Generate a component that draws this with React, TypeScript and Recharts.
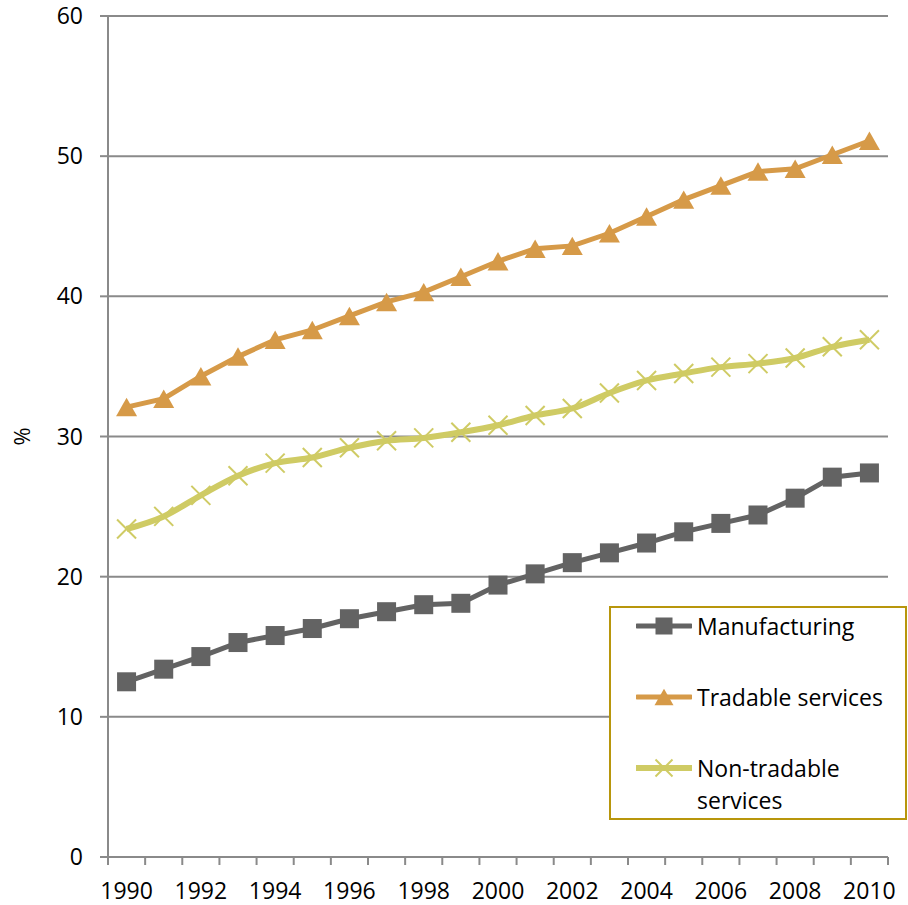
import React from 'react';
import { LineChart, Line, XAxis, YAxis, CartesianGrid } from 'recharts';

const years = ['1990', '1991', '1992', '1993', '1994', '1995', '1996', '1997', '1998', '1999', '2000',
  '2001', '2002', '2003', '2004', '2005', '2006', '2007', '2008', '2009', '2010'];
const manufacturing = [12.5, 13.4, 14.3, 15.3, 15.8, 16.3, 17.0, 17.5, 18.0, 18.1, 19.4,
  20.2, 21.0, 21.7, 22.4, 23.2, 23.8, 24.4, 25.6, 27.1, 27.4];
const tradable = [32.1, 32.7, 34.3, 35.7, 36.9, 37.6, 38.6, 39.6, 40.3, 41.4, 42.5,
  43.4, 43.6, 44.5, 45.7, 46.9, 47.9, 48.9, 49.1, 50.1, 51.1];
const nonTradable = [23.4, 24.3, 25.8, 27.2, 28.1, 28.5, 29.2, 29.7, 29.9, 30.3, 30.8,
  31.5, 32.0, 33.1, 34.0, 34.5, 34.95, 35.2, 35.6, 36.4, 36.9];
const yTicks = [0, 10, 20, 30, 40, 50, 60];

const data = years.map((year, i) => ({
  year,
  manufacturing: manufacturing[i],
  tradable: tradable[i],
  nonTradable: nonTradable[i],
}));

const W = 908;
const H = 905;
const MARGIN = { top: 16, right: 20, left: 0, bottom: 0 };
const Y_W = 108;
const X_H = 48;
const PLOT_W = W - MARGIN.left - MARGIN.right - Y_W;
const BAND = PLOT_W / years.length;

const FONT = '"Open Sans", sans-serif';
const AXIS = '#8a8a8a';
const C_MAN = '#636363';
const C_TRA = '#d69a48';
const C_NON = '#cfcb64';

const Square = ({ cx, cy, size = 19 }: any) =>
  cx == null ? null : <rect x={cx - size / 2} y={cy - size / 2} width={size} height={size} fill={C_MAN} />;

const Triangle = ({ cx, cy, size = 21 }: any) => {
  if (cx == null) return null;
  const h = size * 0.88;
  return (
    <path
      d={`M${cx},${cy - h / 2} L${cx + size / 2},${cy + h / 2} L${cx - size / 2},${cy + h / 2} Z`}
      fill={C_TRA}
    />
  );
};

const Cross = ({ cx, cy, size = 19 }: any) => {
  if (cx == null) return null;
  const r = size / 2;
  return (
    <g stroke={C_NON} strokeWidth={2}>
      <line x1={cx - r} y1={cy - r} x2={cx + r} y2={cy + r} />
      <line x1={cx - r} y1={cy + r} x2={cx + r} y2={cy - r} />
    </g>
  );
};

// tick marks sit on the category boundaries, labels on every other year
const YearTick = (props: any) => {
  const { x, y, payload, index } = props;
  const last = index === years.length - 1;
  return (
    <g>
      <line x1={x - BAND / 2} x2={x - BAND / 2} y1={y} y2={y + 8} stroke={AXIS} strokeWidth={2} />
      {last && <line x1={x + BAND / 2} x2={x + BAND / 2} y1={y} y2={y + 8} stroke={AXIS} strokeWidth={2} />}
      {index % 2 === 0 && (
        <text x={x} y={y + 42} textAnchor="middle" fontSize={23} fontFamily={FONT} fill="#000">
          {payload.value}
        </text>
      )}
    </g>
  );
};

const PercentLabel = ({ viewBox }: any) => {
  const cx = 21;
  const cy = viewBox.y + viewBox.height / 2;
  return (
    <text x={cx} y={cy} transform={`rotate(-90 ${cx} ${cy})`} textAnchor="middle" dominantBaseline="central"
      fontSize={22} fontFamily={FONT} fill="#000">
      %
    </text>
  );
};

const legendItems = [
  { label: ['Manufacturing'], color: C_MAN, width: 5, marker: 'square' },
  { label: ['Tradable services'], color: C_TRA, width: 5, marker: 'triangle' },
  { label: ['Non-tradable', 'services'], color: C_NON, width: 6, marker: 'cross' },
];

const LegendBox = () => (
  <div
    style={{
      position: 'absolute',
      left: 609,
      top: 606,
      width: 298,
      height: 214,
      boxSizing: 'border-box',
      border: '2px solid #b8960c',
      background: '#fff',
      fontFamily: FONT,
      fontSize: 23,
      color: '#000',
    }}
  >
    {legendItems.map((it, i) => {
      const top = [2, 73, 144][i];
      return (
        <div key={i} style={{ position: 'absolute', left: 25, top, display: 'flex', alignItems: 'flex-start' }}>
          <svg width={56} height={32} style={{ flex: 'none' }}>
            <line x1={1} x2={55} y1={16} y2={16} stroke={it.color} strokeWidth={it.width} strokeLinecap="round" />
            {it.marker === 'square' && <Square cx={28} cy={16} size={17} />}
            {it.marker === 'triangle' && <Triangle cx={28} cy={16} size={19} />}
            {it.marker === 'cross' && <Cross cx={28} cy={16} size={17} />}
          </svg>
          <div style={{ marginLeft: 5, lineHeight: '32px' }}>
            {it.label.map((l) => (
              <div key={l}>{l}</div>
            ))}
          </div>
        </div>
      );
    })}
  </div>
);

export default function App() {
  return (
    <div style={{ position: 'absolute', left: 0, top: 0, width: W, height: H, background: '#fff' }}>
      <LineChart width={W} height={H} data={data} margin={MARGIN}>
        <CartesianGrid vertical={false} stroke={AXIS} strokeWidth={2} />
        <XAxis
          dataKey="year"
          height={X_H}
          interval={0}
          padding={{ left: BAND / 2, right: BAND / 2 }}
          tickLine={false}
          tickSize={0}
          tickMargin={0}
          axisLine={{ stroke: AXIS, strokeWidth: 2 }}
          tick={<YearTick />}
        />
        <YAxis
          width={Y_W}
          domain={[0, 60]}
          ticks={yTicks}
          tickSize={8}
          tickMargin={17}
          axisLine={{ stroke: AXIS, strokeWidth: 2 }}
          tickLine={{ stroke: AXIS, strokeWidth: 2 }}
          tick={{ fontSize: 23, fontFamily: FONT, fill: '#000' }}
          label={<PercentLabel />}
        />
        <Line
          type="linear"
          dataKey="manufacturing"
          stroke={C_MAN}
          strokeWidth={5}
          dot={<Square />}
          activeDot={false}
          isAnimationActive={false}
        />
        <Line
          type="linear"
          dataKey="tradable"
          stroke={C_TRA}
          strokeWidth={5}
          dot={<Triangle />}
          activeDot={false}
          isAnimationActive={false}
        />
        <Line
          type="monotone"
          dataKey="nonTradable"
          stroke={C_NON}
          strokeWidth={6}
          dot={<Cross />}
          activeDot={false}
          isAnimationActive={false}
        />
      </LineChart>
      <LegendBox />
    </div>
  );
}
